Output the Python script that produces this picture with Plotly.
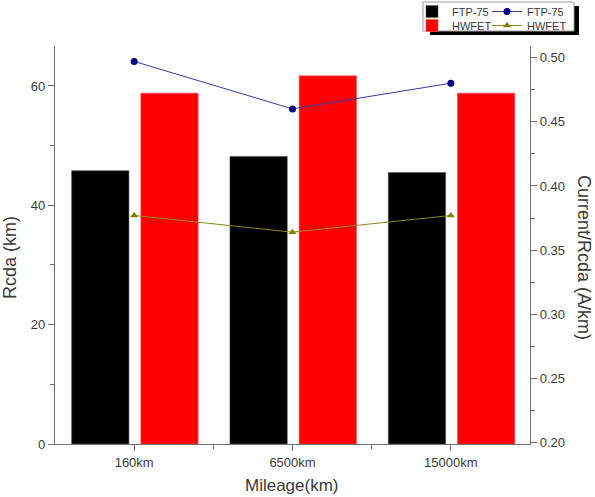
import plotly.graph_objects as go

categories = ["160km", "6500km", "15000km"]
rcda_ftp75 = [45.8, 48.2, 45.5]
rcda_hwfet = [58.8, 61.7, 58.8]
cur_ftp75 = [0.497, 0.460, 0.480]
cur_hwfet = [0.377, 0.364, 0.377]

W, H = 595, 497
L, R, T, B = 55, 530, 46, 444
pw, ph = R - L, B - T

def px(x):
    return (x - L) / pw

def py(y):
    return (B - y) / ph

xi = list(range(len(categories)))
FONT = "Liberation Sans, Arial, sans-serif"
TXT = "#3a3a3a"

fig = go.Figure()
fig.add_trace(go.Bar(x=xi, y=rcda_ftp75, name="FTP-75", marker=dict(color="black", line=dict(color="#555", width=0.6)),
                     offset=-0.395, width=0.362, legend="legend", showlegend=True))
fig.add_trace(go.Bar(x=xi, y=rcda_hwfet, name="HWFET", marker=dict(color="#ff0000", line=dict(color="#ff5050", width=0.6)),
                     offset=0.042, width=0.362, legend="legend3", showlegend=True))
fig.add_trace(go.Scatter(x=xi, y=cur_ftp75, name="FTP-75", yaxis="y2", mode="lines+markers",
                         line=dict(color="#3a3aa8", width=1), marker=dict(color="#000080", size=7, symbol="circle"),
                         legend="legend2", showlegend=True))
fig.add_trace(go.Scatter(x=xi, y=cur_hwfet, name="HWFET", yaxis="y2", mode="lines+markers",
                         line=dict(color="#8a8a20", width=1), marker=dict(color="#808000", size=7, symbol="triangle-up"),
                         legend="legend4", showlegend=True))

axcol = "#707070"

def leg(xpix, ycenter):
    return dict(x=px(xpix), y=py(ycenter - 14), xanchor="left", yanchor="top", bgcolor="rgba(0,0,0,0)",
                font=dict(size=11, color=TXT), tracegroupgap=0, itemwidth=30, borderwidth=0)

fig.update_layout(
    width=W, height=H,
    margin=dict(l=L, r=W - R, t=T, b=H - B, autoexpand=False),
    paper_bgcolor="white", plot_bgcolor="white",
    barmode="overlay", showlegend=True,
    font=dict(family=FONT, color=TXT, size=13),
    xaxis=dict(range=[-0.5, 2.5], tickvals=xi, ticktext=categories, ticks="outside", ticklen=6,
               tickcolor=axcol, showline=True, linecolor=axcol, linewidth=1.2, showgrid=False, zeroline=False,
               minor=dict(tickvals=[0.5, 1.5], ticks="outside", ticklen=4, tickcolor=axcol),
               tickfont=dict(size=13, color=TXT)),
    xaxis2=dict(range=[-0.5, 2.5], overlaying="x", side="top", tickvals=xi, showticklabels=False,
                ticks="inside", ticklen=6, tickcolor=axcol, showline=True, linecolor=axcol, linewidth=1.2,
                showgrid=False, zeroline=False,
                minor=dict(tickvals=[0.5, 1.5], ticks="inside", ticklen=4, tickcolor=axcol)),
    yaxis=dict(range=[0, 66.7], tickvals=[0, 20, 40, 60], ticks="outside", ticklen=6, tickcolor=axcol,
               showline=True, linecolor=axcol, linewidth=1.2, showgrid=False, zeroline=False,
               minor=dict(tickvals=[10, 30, 50], ticks="outside", ticklen=4, tickcolor=axcol),
               tickfont=dict(size=13, color=TXT)),
    yaxis2=dict(range=[0.199, 0.509], overlaying="y", side="right",
                tickvals=[0.20, 0.25, 0.30, 0.35, 0.40, 0.45, 0.50], tickformat=".2f",
                ticks="outside", ticklen=6, tickcolor=axcol, showline=True, linecolor=axcol, linewidth=1.2,
                showgrid=False, zeroline=False,
                minor=dict(tickvals=[0.225, 0.275, 0.325, 0.375, 0.425, 0.475], ticks="outside", ticklen=4, tickcolor=axcol),
                tickfont=dict(size=13, color=TXT)),
    legend=leg(412, 11),
    legend3=leg(412, 25),
    legend2=leg(487, 11),
    legend4=leg(487, 25),
    shapes=[
        dict(type="rect", xref="paper", yref="paper", x0=px(430), x1=px(579), y0=py(35), y1=py(6),
             fillcolor="black", line=dict(width=0), layer="above"),
        dict(type="rect", xref="paper", yref="paper", x0=px(423), x1=px(574), y0=py(31), y1=py(2),
             fillcolor="white", line=dict(color="#999", width=1), layer="above"),
    ],
    annotations=[
        dict(text="Rcda (km)", xref="paper", yref="paper", x=px(10), y=py(258), textangle=-90,
             showarrow=False, font=dict(size=18, color=TXT), xanchor="center", yanchor="middle"),
        dict(text="Current/Rcda (A/km)", xref="paper", yref="paper", x=px(584), y=py(257), textangle=90,
             showarrow=False, font=dict(size=18, color=TXT), xanchor="center", yanchor="middle"),
        dict(text="Mileage(km)", xref="paper", yref="paper", x=px(292), y=py(486), showarrow=False,
             font=dict(size=17, color=TXT), xanchor="center", yanchor="middle"),
    ],
)

fig.write_html("out.html")
